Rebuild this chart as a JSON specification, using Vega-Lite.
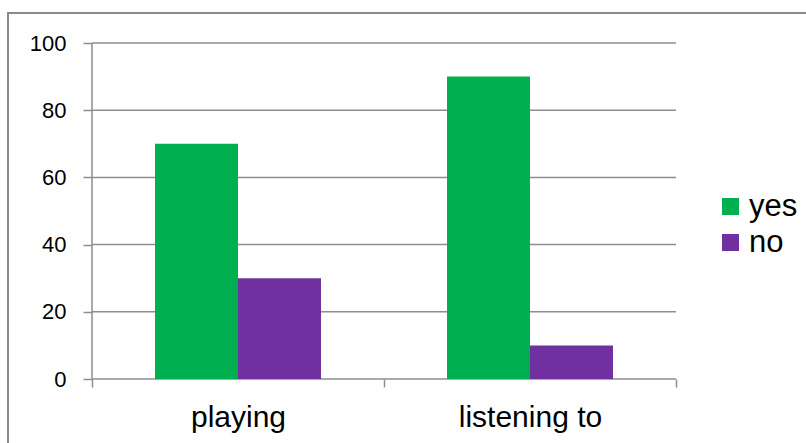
{
  "$schema": "https://vega.github.io/schema/vega-lite/v6.json",
  "width": 802,
  "height": 434,
  "autosize": {"type": "none"},
  "padding": {"left": 8, "top": 13, "right": 0, "bottom": 0},
  "background": "white",
  "config": {
    "view": {"stroke": "#8a8a8a", "strokeWidth": 2},
    "font": "Liberation Sans"
  },
  "datasets": {
    "bars": [
      {"activity": "playing", "answer": "yes", "value": 70},
      {"activity": "playing", "answer": "no", "value": 30},
      {"activity": "listening to", "answer": "yes", "value": 90},
      {"activity": "listening to", "answer": "no", "value": 10}
    ],
    "grid": [
      {"start": "playing", "end": "listening to", "v": 0},
      {"start": "playing", "end": "listening to", "v": 20},
      {"start": "playing", "end": "listening to", "v": 40},
      {"start": "playing", "end": "listening to", "v": 60},
      {"start": "playing", "end": "listening to", "v": 80},
      {"start": "playing", "end": "listening to", "v": 100}
    ],
    "yaxis": [
      {"start": "playing", "lo": 0, "hi": 100}
    ]
  },
  "layer": [
    {
      "data": {"name": "grid"},
      "mark": {"type": "rule", "color": "#8e8e8e", "strokeWidth": 1.5},
      "encoding": {
        "x": {"field": "start", "type": "nominal", "bandPosition": 0, "title": null,
              "scale": {"domain": ["playing", "listening to"], "paddingInner": 0, "paddingOuter": 0.3733, "align": 0.3853},
              "axis": {"offset": -68, "domain": false, "grid": false, "tickBand": "extent", "tickSize": 8, "tickColor": "#8e8e8e", "tickWidth": 1.5, "labelAngle": 0, "labelFontSize": 30, "labelColor": "black", "labelPadding": 15, "title": null, "labelFont": "Liberation Sans"}},
        "x2": {"field": "end", "bandPosition": 1},
        "y": {"field": "v", "type": "quantitative", "title": null,
              "scale": {"domain": [-20.238, 108.929], "nice": false, "zero": false},
              "axis": {"offset": -84, "values": [0, 20, 40, 60, 80, 100], "domain": false, "grid": false, "tickSize": 9, "tickColor": "#8e8e8e", "tickWidth": 1.5, "labelFontSize": 22, "labelColor": "black", "labelPadding": 17, "title": null, "labelFont": "Liberation Sans"}}
      }
    },
    {
      "data": {"name": "yaxis"},
      "mark": {"type": "rule", "color": "#8e8e8e", "strokeWidth": 1.5},
      "encoding": {
        "x": {"field": "start", "type": "nominal", "bandPosition": 0, "title": null},
        "y": {"field": "lo", "type": "quantitative", "title": null},
        "y2": {"field": "hi"}
      }
    },
    {
      "data": {"name": "bars"},
      "mark": {"type": "bar"},
      "encoding": {
        "x": {"field": "activity", "type": "nominal", "title": null},
        "xOffset": {"field": "answer", "type": "nominal", "scale": {"domain": ["yes", "no"], "paddingInner": 0, "paddingOuter": 0.759}},
        "y": {"field": "value", "type": "quantitative", "title": null},
        "color": {"field": "answer", "type": "nominal",
                  "scale": {"domain": ["yes", "no"], "range": ["#00B050", "#7030A0"]},
                  "legend": {"title": null, "orient": "none", "legendX": 707, "legendY": 178, "symbolType": "square", "symbolSize": 289, "symbolStrokeWidth": 0, "symbolOpacity": 1, "labelFontSize": 31, "labelColor": "black", "labelOffset": 3, "rowPadding": 4, "labelFont": "Liberation Sans", "padding": 0}}
      }
    }
  ]
}
